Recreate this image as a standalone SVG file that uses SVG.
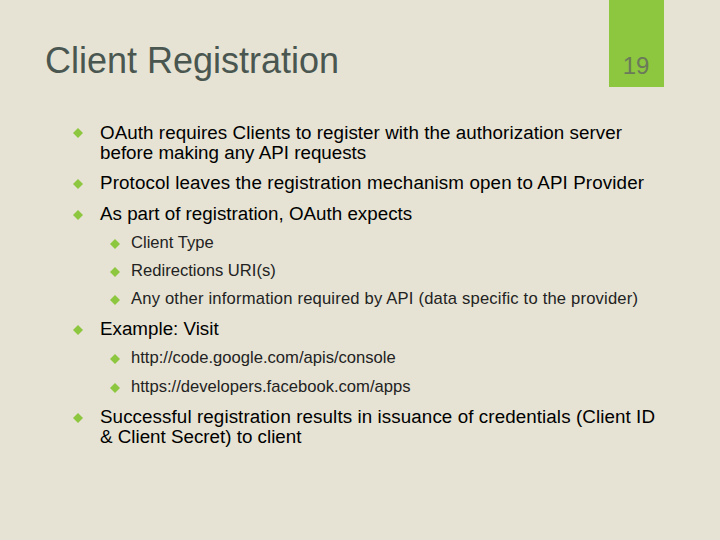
<svg xmlns="http://www.w3.org/2000/svg" width="720" height="540" viewBox="0 0 720 540">
<defs><style>
.t{font-family:"Liberation Sans",Arial,sans-serif;fill:#000}
.m{font-size:18.8px}
.s{font-size:16.6px;fill:#222}
.b{fill:#8dc63f}
</style>
<path id="d" d="M0,-5 L5,0 L0,5 L-5,0Z" class="b"/></defs>
<rect width="720" height="540" fill="#e6e3d4"/>
<rect x="609" y="0" width="55" height="87" fill="#8dc63f"/>
<text x="636" y="74" text-anchor="middle" font-family="Liberation Sans,Arial,sans-serif" font-size="24" fill="#6a7a5a">19</text>
<text x="45" y="73" font-family="Liberation Sans,Arial,sans-serif" font-size="36" fill="#4a5650">Client Registration</text>
<g class="t m">
<use href="#d" x="78" y="133"/><text x="100" y="139" textLength="522">OAuth requires Clients to register with the authorization server</text>
<text x="100" y="159">before making any API requests</text>
<use href="#d" x="78" y="184"/><text x="100" y="189" textLength="544">Protocol leaves the registration mechanism open to API Provider</text>
<use href="#d" x="78" y="215"/><text x="100" y="220">As part of registration, OAuth expects</text>
<use href="#d" x="78" y="330"/><text x="100" y="335">Example: Visit</text>
<use href="#d" x="78" y="418"/><text x="100" y="423" textLength="555">Successful registration results in issuance of credentials (Client ID</text>
<text x="100" y="443">&amp; Client Secret) to client</text>
</g>
<g class="t s">
<use href="#d" x="115" y="244"/><text x="131" y="248">Client Type</text>
<use href="#d" x="115" y="272"/><text x="131" y="276">Redirections URI(s)</text>
<use href="#d" x="115" y="300"/><text x="131" y="304" textLength="507">Any other information required by API (data specific to the provider)</text>
<use href="#d" x="115" y="359"/><text x="131" y="363">http://code.google.com/apis/console</text>
<use href="#d" x="115" y="388"/><text x="131" y="392">https://developers.facebook.com/apps</text>
</g>
</svg>
